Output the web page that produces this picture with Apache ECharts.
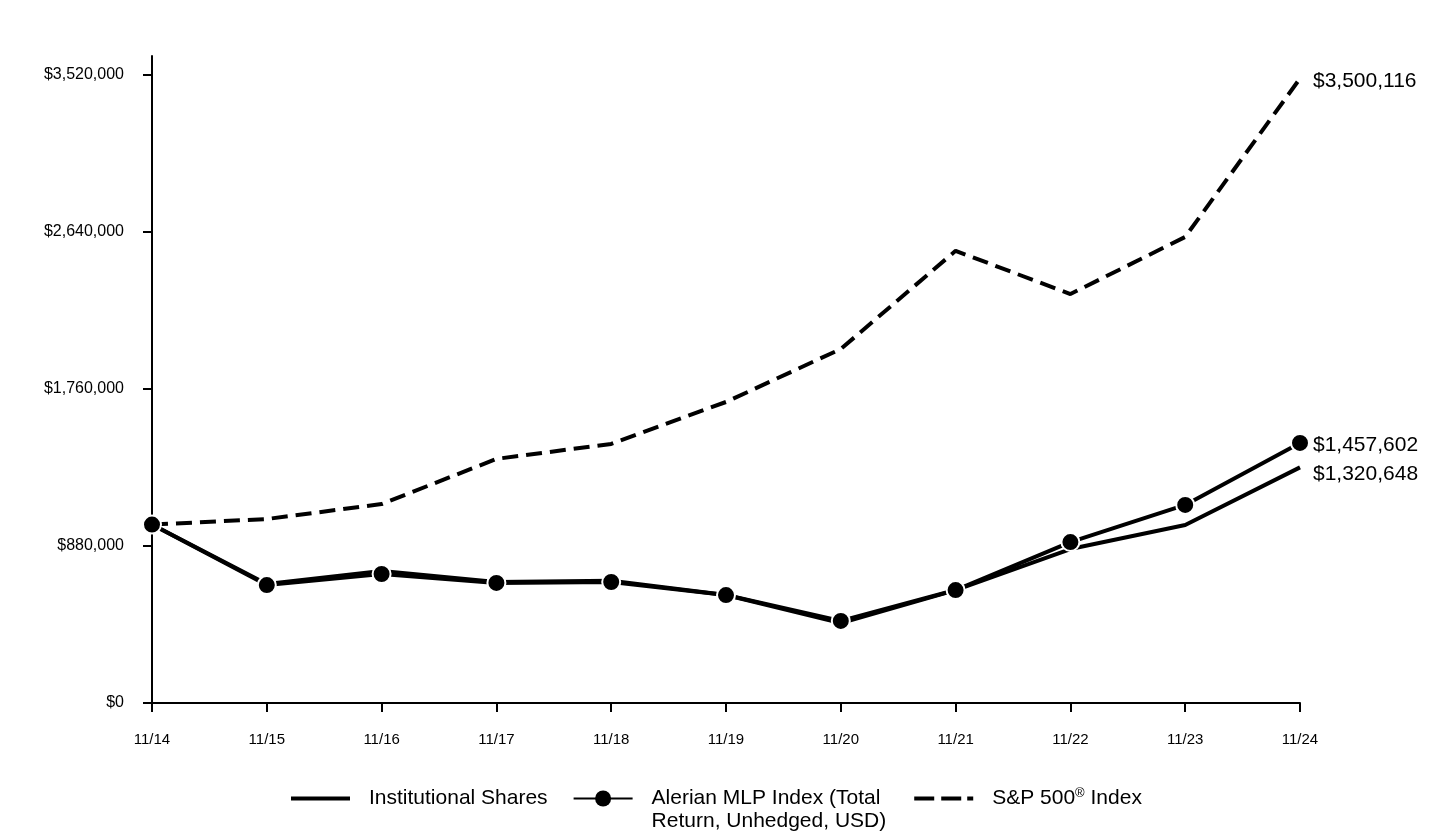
<!DOCTYPE html>
<html>
<head>
<meta charset="utf-8">
<script src="https://cdn.jsdelivr.net/npm/echarts@6/dist/echarts.min.js"></script>
<style>
html,body{margin:0;padding:0;background:#fff;}
#chart{width:1440px;height:840px;}
</style>
</head>
<body>
<div id="chart"></div>
<script>
const categories = ['11/14','11/15','11/16','11/17','11/18','11/19','11/20','11/21','11/22','11/23','11/24'];
const institutional = [1000000, 667000, 740000, 678000, 685000, 605000, 448000, 633000, 863000, 998000, 1320648];
const alerian = [1000000, 661000, 723000, 673000, 678000, 605000, 460000, 633000, 902000, 1110000, 1457602];
const sp500 = [1000000, 1031000, 1115000, 1368000, 1452000, 1687000, 1984000, 2534000, 2292000, 2612000, 3500116];
const yTicks = [0, 880000, 1760000, 2640000, 3520000];
const names = ['Institutional Shares', 'Alerian MLP Index (Total\nReturn, Unhedged, USD)', 'S&P 500® Index'];

const FONT = '"Liberation Sans", Arial, sans-serif';
const money = v => '$' + Math.round(v).toLocaleString('en-US');

// legend icon shapes (59 x 20 box, tiny corner specks keep the box size)
const CORNERS = 'M0,0h0.01v0.01h-0.01z M58.99,19.99h0.01v0.01h-0.01z ';
const solidIcon = 'path://' + CORNERS + 'M0,8h59v4h-59z';
const dashIcon = 'path://' + CORNERS + 'M0,8h20v4h-20z M27,8h20v4h-20z M53,8h6v4h-6z';

const legendText = pad => ({fontFamily: FONT, fontSize: 21, color: '#000', lineHeight: 23, padding: pad,
  rich: {sup: {fontFamily: FONT, fontSize: 13, color: '#000', lineHeight: 13, verticalAlign: 'top'}}});

const chart = echarts.init(document.getElementById('chart'));
chart.setOption({
  animation: false,
  backgroundColor: '#fff',
  grid: {left: 152, right: 140, top: 56, bottom: 137, containLabel: false},
  legend: {
    left: 291, top: 764, padding: 0, itemGap: 25,
    itemWidth: 59, itemHeight: 20, selectedMode: false,
    formatter: n => (n === names[1] ? '\n' + n : n.replace('®', '{sup|®}')),
    textStyle: legendText([0, 0, 0, 14]),
    data: [
      {name: names[0], icon: solidIcon, itemStyle: {color: '#000', borderWidth: 0}, textStyle: legendText([0, 0, 0, 14])},
      {name: names[1], lineStyle: {width: 2, color: '#000'}, itemStyle: {color: '#000', borderWidth: 0}, textStyle: legendText([0, 3, 0, 14])},
      {name: names[2], icon: dashIcon, itemStyle: {color: '#000', borderWidth: 0}, textStyle: legendText([0, 0, 0, 14])}
    ]
  },
  xAxis: {
    type: 'category', data: categories, boundaryGap: false,
    axisLine: {lineStyle: {color: '#000', width: 2}},
    axisTick: {show: true, length: 9, lineStyle: {color: '#000', width: 2}},
    axisLabel: {color: '#000', fontFamily: FONT, fontSize: 15, margin: 29},
    splitLine: {show: false}
  },
  yAxis: {
    type: 'value', min: 0, max: 3626000,
    axisLine: {show: true, lineStyle: {color: '#000', width: 2}},
    axisTick: {show: true, length: 9, customValues: yTicks, lineStyle: {color: '#000', width: 2}},
    axisLabel: {color: '#000', fontFamily: FONT, fontSize: 16, margin: 28, customValues: yTicks, formatter: v => money(v)},
    splitLine: {show: false}
  },
  series: [
    {
      name: names[0], type: 'line', data: institutional, z: 2,
      symbol: 'none', lineStyle: {color: '#000', width: 4}, itemStyle: {color: '#000'},
      endLabel: {show: true, formatter: p => money(p.value), color: '#000', fontFamily: FONT, fontSize: 21, distance: 13, offset: [0, 7]}
    },
    {
      name: names[1], type: 'line', data: alerian, z: 4,
      symbol: 'circle', symbolSize: 18, showAllSymbol: true,
      lineStyle: {color: '#000', width: 4},
      itemStyle: {color: '#000', borderColor: '#fff', borderWidth: 2},
      endLabel: {show: true, formatter: p => money(p.value), color: '#000', fontFamily: FONT, fontSize: 21, distance: 13, offset: [0, 2]}
    },
    {
      name: names[2], type: 'line', data: sp500, z: 3,
      symbol: 'none', lineStyle: {color: '#000', width: 4, type: [16, 8]}, itemStyle: {color: '#000'},
      endLabel: {show: true, formatter: p => money(p.value), color: '#000', fontFamily: FONT, fontSize: 21, distance: 13, offset: [0, 3]}
    }
  ]
});
</script>
</body>
</html>
